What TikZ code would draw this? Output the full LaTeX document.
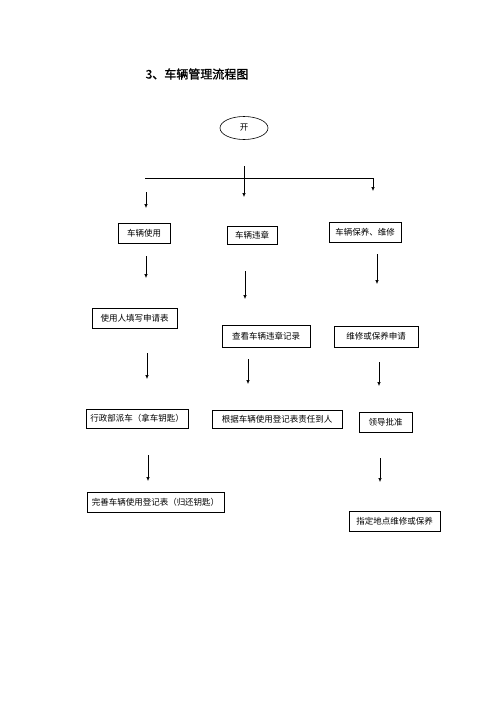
\documentclass[tikz,border=0pt]{standalone}
\usepackage{fontspec}
\usepackage{tikz}
\usetikzlibrary{shapes.geometric, arrows.meta, positioning}
\newfontfamily\cjk{Noto Sans CJK SC}
\newfontfamily\cjkhead{Noto Sans CJK SC}[FakeBold=1.5]

\begin{document}
\begin{tikzpicture}[
    x=1pt, y=-1pt,
    box/.style={draw, line width=0.6pt, minimum height=20pt, inner sep=2pt, font=\cjk\fontsize{8.5}{10}\selectfont, anchor=center},
    arr/.style={line width=0.6pt, -{Latex[length=4pt, width=3.5pt]}}
]
\useasboundingbox (0,0) rectangle (500,707);
\node[font=\cjkhead\fontsize{12}{14}\selectfont] (title) at (197,74) {3、车辆管理流程图};
\node[draw, ellipse, line width=0.6pt, minimum width=48pt, minimum height=23pt, inner sep=0pt, font=\cjk\fontsize{8.5}{10}\selectfont] (start) at (244,128) {开};

% first row
\node[box, minimum width=52pt] (use1) at (144,233) {车辆使用};
\node[box, minimum width=50pt, minimum height=18pt] (vio1) at (252,235.5) {车辆违章};
\node[box, minimum width=72pt] (mnt1) at (365,232) {车辆保养、维修};
% second row
\node[box, minimum width=85pt] (use2) at (134.5,318) {使用人填写申请表};
\node[box, minimum width=88pt, minimum height=22pt] (vio2) at (266,336) {查看车辆违章记录};
\node[box, minimum width=84pt, minimum height=21pt] (mnt2) at (376,336.5) {维修或保养申请};
% third row
\node[box, minimum width=102pt, minimum height=19pt] (use3) at (137,418.5) {行政部派车（拿车钥匙）};
\node[box, minimum width=130pt, minimum height=18pt] (vio3) at (277,419) {根据车辆使用登记表责任到人};
\node[box, minimum width=53pt] (mnt3) at (385.5,422) {领导批准};
% last row
\node[box, minimum width=137pt] (use4) at (155.5,502) {完善车辆使用登记表（归还钥匙）};
\node[box, minimum width=91pt] (mnt4) at (394.5,521) {指定地点维修或保养};

% branch line
\coordinate (barL) at (145,178);
\coordinate (barR) at (373,178);
\coordinate (barRend) at (373,191);
\coordinate (midS) at (244,166);
\coordinate (midE) at (244,197);
\coordinate (leftS) at (146,192);
\coordinate (leftE) at (146,208);
\draw[line width=0.6pt] (barL) -- (barR);
\draw[arr] (barR) -- (barRend);
\draw[arr] (midS) -- (midE);
\draw[arr] (leftS) -- (leftE);

% arrows between rows
\coordinate (a1s) at (146,256); \coordinate (a1e) at (146,278);
\coordinate (b1s) at (245,271); \coordinate (b1e) at (245,299);
\coordinate (c1s) at (377,254); \coordinate (c1e) at (377,284);
\coordinate (a2s) at (147,353); \coordinate (a2e) at (147,379);
\coordinate (b2s) at (248,359); \coordinate (b2e) at (248,384);
\coordinate (c2s) at (379,362); \coordinate (c2e) at (379,386);
\coordinate (a3s) at (148,455); \coordinate (a3e) at (148,481);
\coordinate (c3s) at (380,458); \coordinate (c3e) at (380,482);
\draw[arr] (a1s) -- (a1e);
\draw[arr] (b1s) -- (b1e);
\draw[arr] (c1s) -- (c1e);
\draw[arr] (a2s) -- (a2e);
\draw[arr] (b2s) -- (b2e);
\draw[arr] (c2s) -- (c2e);
\draw[arr] (a3s) -- (a3e);
\draw[arr] (c3s) -- (c3e);
\end{tikzpicture}
\end{document}
